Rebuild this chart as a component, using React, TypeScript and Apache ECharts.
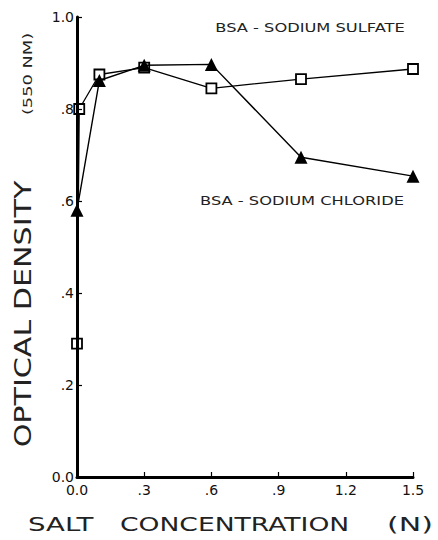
import React, { useEffect, useRef } from "react";
import * as echarts from "echarts";

const xTicks = ["0.0", ".3", ".6", ".9", "1.2", "1.5"];
const yTicks = ["0.0", ".2", ".4", ".6", ".8", "1.0"];
const sulfateX = [0, 0.01, 0.1, 0.3, 0.6, 1.0, 1.5];
const sulfateY = [0.29, 0.8, 0.875, 0.89, 0.845, 0.865, 0.887];
const chlorideX = [0, 0.1, 0.3, 0.6, 1.0, 1.5];
const chlorideY = [0.58, 0.862, 0.895, 0.897, 0.695, 0.654];

const FONT = "DejaVu Sans";

export default function App() {
  const ref = useRef<HTMLDivElement>(null);
  useEffect(() => {
    const chart = echarts.init(ref.current!, null, { renderer: "svg" });
    const txt = (text: string, x: number, y: number, size: number, sx: number, align = "center", rot = 0) => ({
      type: "text",
      x,
      y,
      rotation: rot,
      scaleX: sx,
      style: { text, fontSize: size, fontFamily: FONT, fill: "#222", align, verticalAlign: "middle" },
    });
    chart.setOption({
      animation: false,
      backgroundColor: "#fff",
      grid: { left: 77, right: 25, top: 17, bottom: 63 },
      xAxis: {
        type: "value",
        min: 0,
        max: 1.5,
        interval: 0.3,
        z: 5,
        axisLine: { lineStyle: { color: "#000", width: 3 } },
        axisTick: { inside: true, length: 5, lineStyle: { color: "#000", width: 1.2 } },
        splitLine: { show: false },
        axisLabel: {
          color: "#111",
          fontFamily: FONT,
          fontSize: 14,
          margin: 6,
          formatter: (v: number) => xTicks[Math.round(v / 0.3)] ?? "",
        },
      },
      yAxis: {
        type: "value",
        min: 0,
        max: 1,
        interval: 0.2,
        z: 5,
        axisLine: { lineStyle: { color: "#000", width: 3 } },
        axisTick: { inside: true, length: 5, lineStyle: { color: "#000", width: 1.2 } },
        splitLine: { show: false },
        axisLabel: {
          color: "#111",
          fontFamily: FONT,
          fontSize: 14,
          margin: 3,
          formatter: (v: number) => yTicks[Math.round(v / 0.2)] ?? "",
        },
      },
      series: [
        {
          name: "BSA - SODIUM SULFATE",
          type: "line",
          data: sulfateX.map((x, i) => [x, sulfateY[i]]),
          symbol: "rect",
          symbolSize: 10,
          lineStyle: { color: "#000", width: 1.3 },
          itemStyle: { color: "#fff", borderColor: "#000", borderWidth: 1.8 },
          z: 3,
        },
        {
          name: "BSA - SODIUM CHLORIDE",
          type: "line",
          data: chlorideX.map((x, i) => [x, chlorideY[i]]),
          symbol: "triangle",
          symbolSize: 13,
          lineStyle: { color: "#000", width: 1.4 },
          itemStyle: { color: "#000" },
          z: 4,
        },
      ],
      graphic: [
        txt("BSA - SODIUM SULFATE", 310, 27, 13, 1.25),
        txt("BSA - SODIUM CHLORIDE", 302, 200, 13, 1.25),
        txt("SALT", 28, 524, 20, 1.38, "left"),
        txt("CONCENTRATION", 120, 524, 20, 1.33, "left"),
        txt("(N)", 387, 524, 20, 1.5, "left"),
        txt("OPTICAL DENSITY", 23, 314, 23, 1.31, "center", Math.PI / 2),
        txt("(550 NM)", 28, 74, 13, 1.37, "center", Math.PI / 2),
      ],
    });
    return () => chart.dispose();
  }, []);
  return <div ref={ref} style={{ position: "fixed", left: 0, top: 0, width: 438, height: 540 }} />;
}
